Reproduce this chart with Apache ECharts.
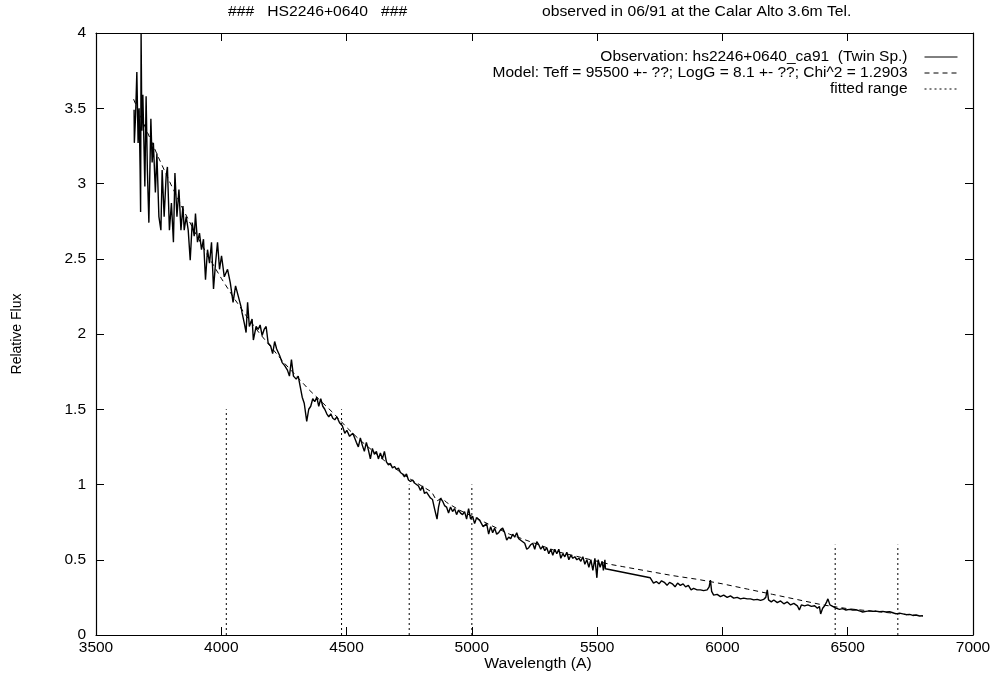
<!DOCTYPE html>
<html>
<head>
<meta charset="utf-8">
<title>HS2246+0640</title>
<script src="https://cdn.jsdelivr.net/npm/echarts@6/dist/echarts.min.js"></script>
<style>
html, body { margin: 0; padding: 0; background: #fff; }
#chart { width: 994px; height: 680px; }
</style>
</head>
<body>
<div id="chart"></div>
<script>
// observed spectrum (wavelength in A, relative flux)
const obsWave = [
  3652, 3653, 3658, 3663, 3668, 3672, 3676, 3678, 3680, 3683, 3687, 3695, 3700, 3705, 3711, 3719, 3724, 3729, 3737, 3743,
  3751, 3759, 3764, 3772, 3780, 3785, 3793, 3801, 3809, 3815, 3823, 3831, 3839, 3847, 3852, 3860, 3868, 3876, 3884, 3892,
  3897, 3905, 3913, 3921, 3929, 3937, 3945, 3953, 3961, 3969, 3977, 3985, 3993, 4001, 4012, 4025, 4036, 4047, 4057, 4068, 4079,
  4083, 4092, 4099, 4105, 4112, 4123, 4128, 4139, 4147, 4155, 4163, 4171, 4179, 4187, 4197, 4205, 4213, 4221, 4232, 4243,
  4253, 4264, 4272, 4280, 4288, 4299, 4307, 4315, 4323, 4331, 4341, 4349, 4357, 4365, 4373, 4381, 4389, 4397, 4405, 4413,
  4421, 4429, 4437, 4445, 4453, 4461, 4472, 4483, 4493, 4501, 4512, 4525, 4539,
  4547, 4555, 4563, 4571, 4579, 4587, 4595, 4603, 4611, 4619, 4627, 4635, 4643, 4651, 4659, 4667, 4675, 4683, 4691, 4699,
  4707, 4715, 4723, 4731, 4739, 4747, 4755, 4763, 4771, 4779, 4787, 4795, 4803, 4811, 4819, 4827, 4835, 4843, 4851, 4861,
  4867, 4875, 4883, 4891, 4899, 4907, 4915, 4923, 4931, 4939, 4947, 4955, 4963, 4971, 4979, 4987, 4995, 5003, 5011, 5019,
  5032, 5045, 5059,
  5067, 5075, 5083, 5091, 5099, 5107, 5115, 5123, 5131, 5139, 5147, 5155, 5163, 5171, 5179, 5187, 5195, 5203, 5211, 5219,
  5227, 5235, 5243, 5251, 5259, 5267, 5275, 5283, 5291, 5299, 5307, 5315, 5323, 5331, 5339, 5347, 5355, 5363, 5371, 5379,
  5387, 5395, 5403, 5411, 5419, 5427, 5435, 5443, 5451, 5459, 5467, 5475, 5483, 5491, 5499, 5504, 5512, 5520, 5525, 5531, 5533,
  5712, 5725, 5736, 5747, 5757, 5768, 5779, 5789, 5800, 5811, 5821, 5832, 5843, 5853, 5864, 5875, 5885, 5899, 5912, 5925,
  5939, 5947, 5952, 5957, 5965, 5979, 5992, 6005, 6019, 6032, 6045, 6059, 6072, 6085, 6099, 6112, 6125, 6139, 6152, 6165,
  6173, 6179, 6184, 6195, 6205, 6219, 6232, 6245, 6259, 6272, 6285, 6299, 6307, 6315, 6328, 6341, 6355, 6368, 6379, 6387,
  6392, 6400, 6408, 6416, 6421, 6429, 6440, 6453, 6467, 6480, 6493, 6507, 6520, 6533, 6547, 6560, 6573, 6587, 6600, 6613,
  6627, 6640, 6653, 6667, 6680, 6693, 6707, 6720, 6733, 6747, 6760, 6773, 6787, 6800
];
const obsFlux = [
  3.49, 3.27, 3.45, 3.74, 3.27, 3.50, 3.10, 2.81, 4.00, 3.35, 3.59, 2.98, 3.58, 3.09, 2.74, 3.43, 3.14, 3.27, 2.94, 3.20,
  2.78, 2.69, 3.09, 2.78, 3.05, 3.11, 2.69, 2.87, 2.61, 3.07, 2.78, 2.96, 2.69, 2.85, 2.69, 2.78, 2.69, 2.49, 2.74, 2.65,
  2.80, 2.61, 2.67, 2.56, 2.63, 2.36, 2.56, 2.47, 2.61, 2.30, 2.47, 2.61, 2.43, 2.52, 2.38, 2.43, 2.34, 2.21, 2.32, 2.25, 2.18,
  2.14, 2.07, 2.01, 2.21, 2.05, 2.10, 1.96, 2.05, 2.03, 2.06, 1.99, 2.03, 2.05, 1.94, 1.92, 1.87, 1.95, 1.90, 1.86, 1.81,
  1.79, 1.76, 1.72, 1.83, 1.72, 1.70, 1.72, 1.65, 1.58, 1.54, 1.42, 1.50, 1.52, 1.57, 1.55, 1.58, 1.52, 1.57, 1.52, 1.50,
  1.47, 1.45, 1.47, 1.44, 1.43, 1.45, 1.41, 1.39, 1.34, 1.36, 1.32, 1.34, 1.28,
  1.25, 1.31, 1.26, 1.22, 1.28, 1.23, 1.17, 1.24, 1.20, 1.22, 1.17, 1.21, 1.17, 1.22, 1.15, 1.13, 1.14, 1.11, 1.12, 1.10,
  1.11, 1.08, 1.07, 1.05, 1.07, 1.03, 1.02, 1.03, 1.01, 1.00, 0.99, 0.96, 0.99, 0.94, 0.95, 0.93, 0.91, 0.90, 0.84, 0.77,
  0.85, 0.91, 0.89, 0.86, 0.85, 0.81, 0.85, 0.82, 0.84, 0.80, 0.83, 0.81, 0.80, 0.82, 0.77, 0.84, 0.77, 0.79, 0.74, 0.78,
  0.76, 0.72, 0.74,
  0.67, 0.72, 0.68, 0.71, 0.67, 0.68, 0.70, 0.71, 0.68, 0.63, 0.65, 0.64, 0.67, 0.65, 0.68, 0.64, 0.63, 0.62, 0.61, 0.57,
  0.58, 0.60, 0.61, 0.57, 0.62, 0.60, 0.57, 0.59, 0.56, 0.58, 0.54, 0.57, 0.53, 0.57, 0.54, 0.57, 0.51, 0.54, 0.52, 0.55,
  0.50, 0.53, 0.51, 0.52, 0.50, 0.51, 0.49, 0.52, 0.47, 0.50, 0.45, 0.50, 0.43, 0.51, 0.38, 0.50, 0.45, 0.49, 0.43, 0.50, 0.44,
  0.38, 0.345, 0.355, 0.34, 0.36, 0.35, 0.33, 0.35, 0.34, 0.32, 0.345, 0.33, 0.34, 0.32, 0.33, 0.30, 0.31, 0.30, 0.30, 0.295,
  0.30, 0.32, 0.365, 0.29, 0.265, 0.27, 0.255, 0.265, 0.25, 0.26, 0.245, 0.25, 0.24, 0.245, 0.24, 0.24, 0.233, 0.237, 0.23, 0.237,
  0.25, 0.30, 0.233, 0.22, 0.233, 0.215, 0.226, 0.207, 0.22, 0.20, 0.21, 0.194, 0.166, 0.20, 0.194, 0.20, 0.19, 0.194, 0.178, 0.19,
  0.14, 0.178, 0.194, 0.22, 0.24, 0.20, 0.19, 0.178, 0.17, 0.175, 0.166, 0.17, 0.166, 0.168, 0.16, 0.153, 0.157, 0.16, 0.157, 0.159,
  0.155, 0.157, 0.153, 0.155, 0.148, 0.14, 0.145, 0.14, 0.135, 0.137, 0.13, 0.133, 0.126, 0.128
];

// fitted model (dashed)
const modelWave = [3650, 3700, 3750, 3800, 3850, 3900, 3950, 4000, 4050, 4100, 4150, 4200, 4250, 4300, 4350, 4400, 4450, 4500,
  4550, 4600, 4650, 4700, 4750, 4800, 4840, 4860, 4880, 4900, 4950, 5000, 5050, 5100, 5150, 5200, 5250, 5300, 5350, 5400,
  5450, 5500, 5550, 5600, 5700, 5800, 5900, 6000, 6100, 6200, 6300, 6400, 6500, 6600, 6700, 6800];
const modelFlux = [3.56, 3.36, 3.17, 2.99, 2.82, 2.66, 2.51, 2.37, 2.24, 2.12, 2.01, 1.91, 1.81, 1.72, 1.63, 1.55, 1.47, 1.38,
  1.30, 1.23, 1.16, 1.10, 1.04, 0.99, 0.95, 0.89, 0.91, 0.88, 0.83, 0.79, 0.75, 0.71, 0.67, 0.64, 0.61, 0.58, 0.55, 0.53,
  0.51, 0.49, 0.47, 0.455, 0.425, 0.395, 0.37, 0.34, 0.305, 0.27, 0.235, 0.20, 0.175, 0.158, 0.142, 0.126];

// fitted ranges (dotted verticals)
const fitStart = [4020, 4750, 6450];
const fitEnd = [4480, 5000, 6700];
const fitHeight = [1.5, 1.0, 0.6];

const titleLeft = '###   HS2246+0640   ###';
const titleRight = 'observed in 06/91 at the Calar Alto 3.6m Tel.';
const obsName = 'Observation: hs2246+0640_ca91  (Twin Sp.)';
const modelName = 'Model: Teff = 95500 +- ??; LogG = 8.1 +- ??; Chi^2 = 1.2903';
const fitName = 'fitted range';

const FONT = '"Liberation Sans", Arial, sans-serif';
const FS = 15.5;   // horizontal text in the original looks slightly stretched
const SX = 1.12;

let chart = echarts.init(document.getElementById('chart'), null, { renderer: 'canvas' });

let fitSeries = [];
for (let i = 0; i < fitStart.length; i++) {
  [fitStart[i], fitEnd[i]].forEach(function (x) {
    fitSeries.push({
      name: fitName,
      type: 'line',
      symbol: 'none',
      silent: true,
      itemStyle: { color: '#000' },
      lineStyle: { color: '#000', width: 1, type: [2, 3] },
      data: [[x, 0], [x, fitHeight[i]]]
    });
  });
}

function axisX(pos, labels) {
  return {
    type: 'value', position: pos, min: 3500, max: 7000, interval: 500,
    axisLine: { show: true, onZero: false, lineStyle: { color: '#000', width: 1.2 } },
    axisTick: { show: true, inside: true, length: 8, lineStyle: { color: '#000' } },
    axisLabel: { show: labels, color: '#000', fontSize: FS, fontFamily: FONT, margin: 5, formatter: function (v) { return String(v); } },
    splitLine: { show: false }
  };
}
function axisY(pos, labels) {
  return {
    type: 'value', position: pos, min: 0, max: 4, interval: 0.5,
    axisLine: { show: true, onZero: false, lineStyle: { color: '#000', width: 1.2 } },
    axisTick: { show: true, inside: true, length: 8, lineStyle: { color: '#000' } },
    axisLabel: { show: labels, color: '#000', fontSize: FS, fontFamily: FONT, margin: 10, formatter: function (v) { return String(v); } },
    splitLine: { show: false }
  };
}

function legendAt(top, name) {
  return {
    show: true, right: 31, top: top, orient: 'vertical', align: 'right',
    itemWidth: 33, itemHeight: 14, selectedMode: false,
    itemStyle: { opacity: 0, borderWidth: 0 },
    lineStyle: { width: 1 },
    textStyle: { color: '#000', fontSize: FS, fontFamily: FONT, padding: [0, 12, 0, 0] },
    data: [name]
  };
}

function label(x, y, text) {
  return {
    type: 'text', x: x, y: y, scaleX: SX,
    style: { text: text, fill: '#000', font: '14px ' + FONT, verticalAlign: 'middle', textVerticalAlign: 'middle' }
  };
}

let option = {
  animation: false,
  backgroundColor: '#fff',
  grid: { left: 96, right: 21, top: 33, bottom: 45, containLabel: false, outerBoundsMode: 'none' },
  legend: [legendAt(44, obsName), legendAt(60, modelName), legendAt(76, fitName)],
  xAxis: [axisX('bottom', true), axisX('top', false)],
  yAxis: [axisY('left', true), axisY('right', false)],
  graphic: [
    label(228, 12, titleLeft),
    label(542, 12, titleRight),
    {
      type: 'text', x: 538, y: 664, scaleX: SX,
      style: { text: 'Wavelength (A)', fill: '#000', font: '14px ' + FONT, align: 'center', textAlign: 'center', verticalAlign: 'middle', textVerticalAlign: 'middle' }
    },
    {
      type: 'text', x: 17, y: 334, rotation: Math.PI / 2,
      style: { text: 'Relative Flux', fill: '#000', font: '14px ' + FONT, align: 'center', textAlign: 'center', verticalAlign: 'middle', textVerticalAlign: 'middle' }
    }
  ],
  series: [
    {
      name: obsName,
      type: 'line',
      symbol: 'none',
      sampling: null,
      silent: true,
      itemStyle: { color: '#000' },
      lineStyle: { color: '#000', width: 1.4 },
      data: obsWave.map(function (w, i) { return [w, obsFlux[i]]; })
    },
    {
      name: modelName,
      type: 'line',
      symbol: 'none',
      silent: true,
      itemStyle: { color: '#000' },
      lineStyle: { color: '#000', width: 1, type: [5, 4] },
      data: modelWave.map(function (w, i) { return [w, modelFlux[i]]; })
    }
  ].concat(fitSeries)
};

chart.setOption(option);
</script>
</body>
</html>
